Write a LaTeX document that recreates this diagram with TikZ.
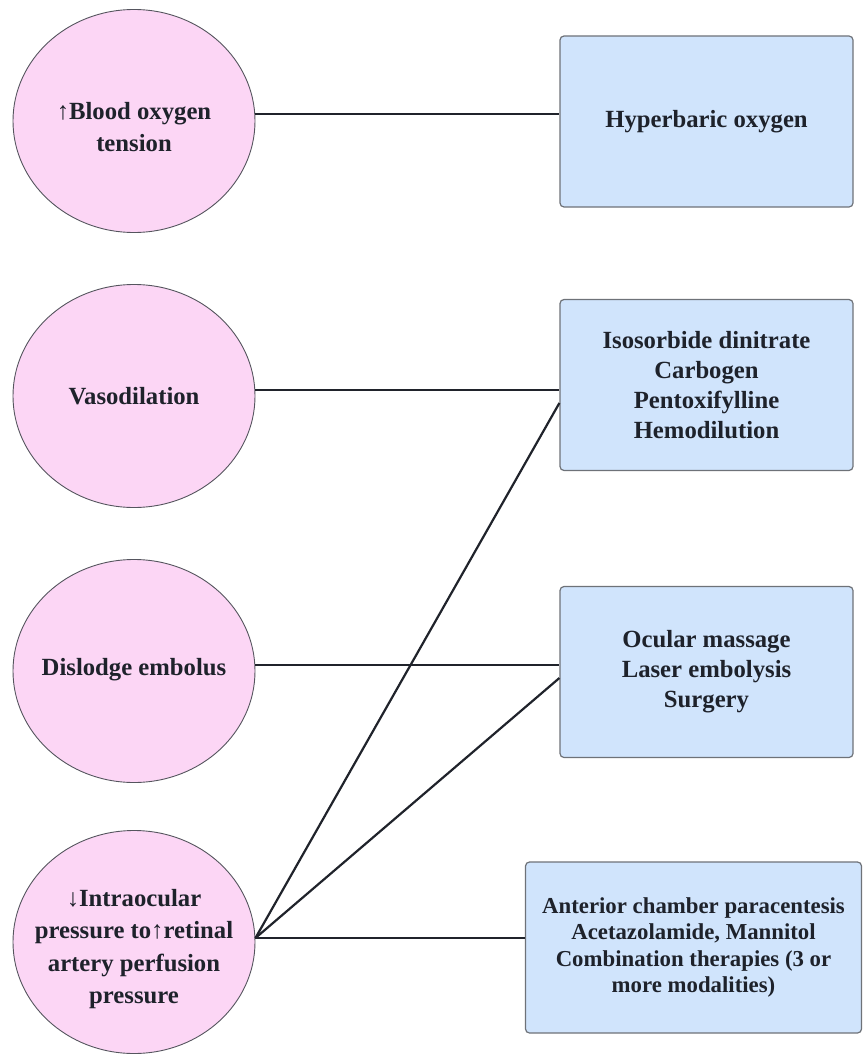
\documentclass[tikz,border=0pt]{standalone}
\usepackage{fontspec}
\setmainfont{Liberation Serif}
\usetikzlibrary{shapes.geometric}
\definecolor{pinkfill}{HTML}{FCD6F5}
\definecolor{bluefill}{HTML}{D0E4FC}
\definecolor{boxline}{HTML}{6E7278}
\definecolor{circline}{HTML}{55555E}
\definecolor{txt}{HTML}{1E222B}
\definecolor{conn}{HTML}{20232B}
\tikzset{
  circ/.style={ellipse, draw=circline, line width=0.9pt, fill=pinkfill,
    minimum width=242pt, minimum height=223pt, inner sep=0pt},
  ctext/.style={align=center, inner sep=0pt, text=txt,
    font=\bfseries\fontsize{24.7}{32.5}\selectfont},
  tbox/.style={rectangle, rounded corners=4pt, draw=boxline, line width=1.2pt, fill=bluefill,
    minimum width=293pt, minimum height=171pt, inner sep=0pt, align=center,
    text=txt, font=\bfseries\fontsize{24.7}{30}\selectfont},
  link/.style={draw=conn, line width=2.2pt}
}
\begin{document}
\begin{tikzpicture}[x=1pt,y=-1pt]
\useasboundingbox (0,0) rectangle (863,1057);
\node[circ] (c1) at (134,121) {};
\node[circ] (c2) at (134,396) {};
\node[circ] (c3) at (134,671) {};
\node[circ] (c4) at (134,942) {};
\node[ctext] (t1) at (134,127) {↑Blood oxygen\\tension};
\node[ctext] (t2) at (134,396) {Vasodilation};
\node[ctext] (t3) at (134,670) {Dislodge embolus};
\node[ctext] (t4) at (134,949) {↓Intraocular\\pressure to↑retinal\\artery perfusion\\pressure};
\node[tbox] (b1) at (706.5,121.5) {Hyperbaric oxygen};
\node[tbox] (b2) at (706.5,385) {Isosorbide dinitrate\\Carbogen\\Pentoxifylline\\Hemodilution};
\node[tbox] (b3) at (706.5,672) {Ocular massage\\Laser embolysis\\Surgery};
\node[tbox, minimum width=336pt, font=\bfseries\fontsize{22.8}{26.5}\selectfont] (b4) at (693.5,947.5) {Anterior chamber paracentesis\\Acetazolamide, Mannitol\\Combination therapies (3 or\\more modalities)};
\coordinate (p1) at (c1.east |- 0,114);
\coordinate (p2) at (c2.east |- 0,390);
\coordinate (p3) at (c3.east |- 0,665);
\coordinate (p4) at (c4.east |- 0,938);
\draw[link] (p1) -- (b1.west |- p1);
\draw[link] (p2) -- (b2.west |- p2);
\draw[link] (p3) -- (b3.west |- p3);
\draw[link] (p4) -- (b4.west |- p4);
\draw[link] (p4) -- (b2.west |- 0,403);
\draw[link] (p4) -- (b3.west |- 0,678);
\end{tikzpicture}
\end{document}
